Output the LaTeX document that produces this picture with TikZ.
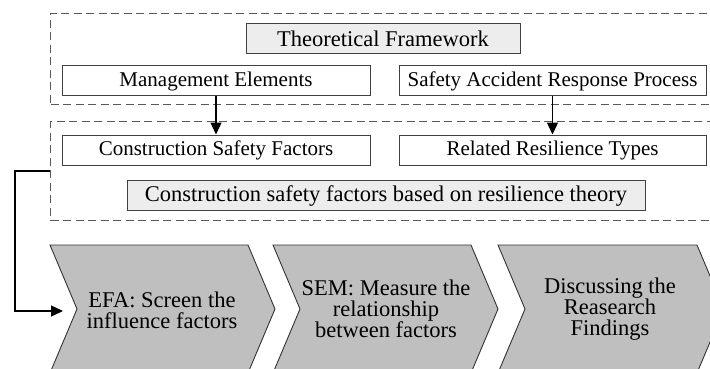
\documentclass[tikz,border=0pt]{standalone}
\usepackage{fontspec}
\setmainfont{Liberation Serif}
\usetikzlibrary{arrows.meta}
\begin{document}
\begin{tikzpicture}[x=1pt,y=-1pt,
  dashbox/.style={draw=black!65, line width=1pt, dash pattern=on 8pt off 4.5pt, inner sep=0pt, anchor=north west},
  whitebox/.style={draw=black!75, line width=1pt, fill=white, inner sep=0pt, font=\fontsize{21}{21}\selectfont, text=black},
  graybox/.style={draw=black!75, line width=1pt, fill=black!7, inner sep=0pt, font=\fontsize{22.5}{22.5}\selectfont, text=black},
  chev/.style={draw=black!80, line width=0.9pt, fill=black!25},
  chevtext/.style={align=center, font=\fontsize{22.5}{21}\selectfont, inner sep=0pt, text=black},
  conn/.style={draw=black, line width=1.4pt, -{Triangle[length=12pt,width=11pt]}}
]
\useasboundingbox (0,0) rectangle (710,369);
\clip (0,0) rectangle (710,369);

% dashed zones
\node[dashbox, minimum width=670pt, minimum height=91pt] (zone1) at (50,13) {};
\node[dashbox, minimum width=670pt, minimum height=99pt] (zone2) at (50,121) {};

% boxes
\node[graybox, minimum width=274pt, minimum height=30pt] (tf) at (383,38.5) {Theoretical Framework};
\node[whitebox, minimum width=308pt, minimum height=30pt] (me) at (216,81) {Management Elements};
\node[whitebox, minimum width=307pt, minimum height=30pt] (sarp) at (552.5,81) {Safety Accident Response Process};
\node[whitebox, minimum width=308pt, minimum height=30pt] (csf) at (216,150) {Construction Safety Factors};
\node[whitebox, minimum width=307pt, minimum height=30pt] (rrt) at (552.5,150) {Related Resilience Types};
\node[graybox, minimum width=518pt, minimum height=30pt] (csfr) at (386,195.7) {Construction safety factors based on resilience theory};

% chevrons
\draw[chev] (50,245) -- (248,245) -- (275,309) -- (248,373) -- (50,373) -- (77,309) -- cycle;
\draw[chev] (273,245) -- (471,245) -- (498,309) -- (471,373) -- (273,373) -- (300,309) -- cycle;
\draw[chev] (498,245) -- (697,245) -- (724,309) -- (697,373) -- (498,373) -- (525,309) -- cycle;
\node[chevtext] (efa) at (162,310) {EFA: Screen the\\influence factors};
\node[chevtext] (sem) at (386,309) {SEM: Measure the\\relationship\\between factors};
\node[chevtext] (disc) at (610,309) {Discussing the\\Reasearch\\Findings};
\coordinate (efain) at (63,311);

% connectors
\draw[conn] (me.south) -- (csf.north);
\draw[conn] (sarp.south) -- (rrt.north);
\draw[conn] (zone2.west) -- ++(-35,0) |- (efain);
\end{tikzpicture}
\end{document}
